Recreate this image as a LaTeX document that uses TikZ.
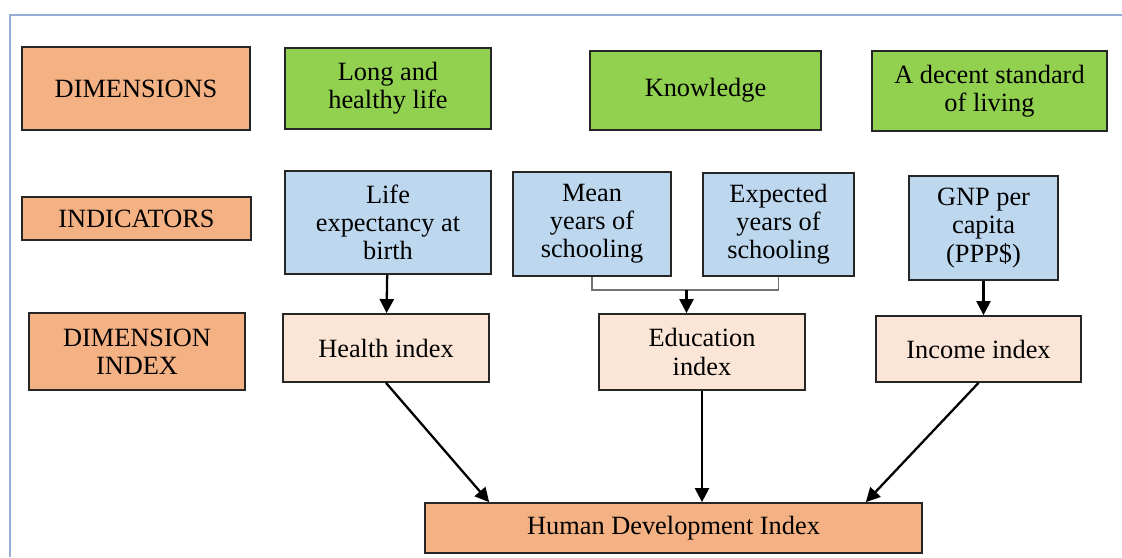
\documentclass[tikz,border=0pt]{standalone}
\usepackage{fontspec}
\setmainfont{Liberation Serif}
\usetikzlibrary{arrows.meta,positioning}

\definecolor{hdiorange}{HTML}{F4B183}
\definecolor{hdigreen}{HTML}{92D050}
\definecolor{hdiblue}{HTML}{BDD7EE}
\definecolor{hdipeach}{HTML}{FBE5D6}
\definecolor{frameblue}{HTML}{95AFD4}

\begin{document}
\begin{tikzpicture}[
  >={Triangle[width=8pt,length=8pt]},
  every node/.style={font=\fontsize{15}{16}\selectfont},
  box/.style={draw=black!85, line width=1pt, align=center, inner sep=0pt},
  link/.style={->, line width=1.3pt, black},
]
  \useasboundingbox (0,0) rectangle (22.44,11.14);
  \draw[frameblue, line width=0.8pt] (0.2,0) -- (0.2,10.84) -- (22.44,10.84);

  \node[box, fill=hdiorange, minimum width=45.6mm, minimum height=16.6mm] (dims) at (2.72, 9.37) {DIMENSIONS};
  \node[box, fill=hdigreen, minimum width=41.2mm, minimum height=16.2mm] (life) at (7.76, 9.37) {Long and\\healthy life};
  \node[box, fill=hdigreen, minimum width=46.2mm, minimum height=15.8mm] (know) at (14.11, 9.33) {Knowledge};
  \node[box, fill=hdigreen, minimum width=47mm, minimum height=16mm] (living) at (19.79, 9.32) {A decent standard\\of living};

  \node[box, fill=hdiorange, minimum width=45.8mm, minimum height=8.6mm] (indic) at (2.73, 6.77) {INDICATORS};
  \node[box, fill=hdiblue, minimum width=41.2mm, minimum height=20.6mm] (lifeexp) at (7.76, 6.69) {Life\\expectancy at\\birth};
  \node[box, fill=hdiblue, minimum width=31.6mm, minimum height=20.8mm] (mean) at (11.84, 6.66) {Mean\\years of\\schooling};
  \node[box, fill=hdiblue, minimum width=30.2mm, minimum height=20.6mm] (expected) at (15.57, 6.65) {Expected\\years of\\schooling};
  \node[box, fill=hdiblue, minimum width=29.8mm, minimum height=20.8mm] (gnp) at (19.67, 6.58) {GNP per\\capita\\(PPP\$)};

  \node[box, fill=hdiorange, minimum width=43.2mm, minimum height=15.4mm] (dimidx) at (2.74, 4.11) {DIMENSION\\INDEX};
  \node[box, fill=hdipeach, minimum width=41.2mm, minimum height=13.6mm] (health) at (7.72, 4.18) {Health index};
  \node[box, fill=hdipeach, minimum width=41.2mm, minimum height=15.2mm] (edu) at (14.04, 4.10) {Education\\index};
  \node[box, fill=hdipeach, minimum width=41mm, minimum height=13.2mm] (income) at (19.57, 4.16) {Income index};

  \node[box, fill=hdiorange, minimum width=99.4mm, minimum height=10mm] (hdi) at (13.47, 0.58) {Human Development Index};

  \coordinate (join) at (13.73, 5.34);
  \draw[black!55, line width=0.6pt] (mean.south) |- (join) -| (expected.south);

  \draw[link] (lifeexp) -- (health);
  \draw[link] (join) -- (join |- edu.north);
  \draw[link] (gnp.south) -- (gnp.south |- income.north);
  \draw[link] (health.south) -- ([xshift=13mm]hdi.north west);
  \draw[link] (edu.south) -- (edu.south |- hdi.north);
  \draw[link] (income.south) -- ([xshift=-11.4mm]hdi.north east);
\end{tikzpicture}
\end{document}
